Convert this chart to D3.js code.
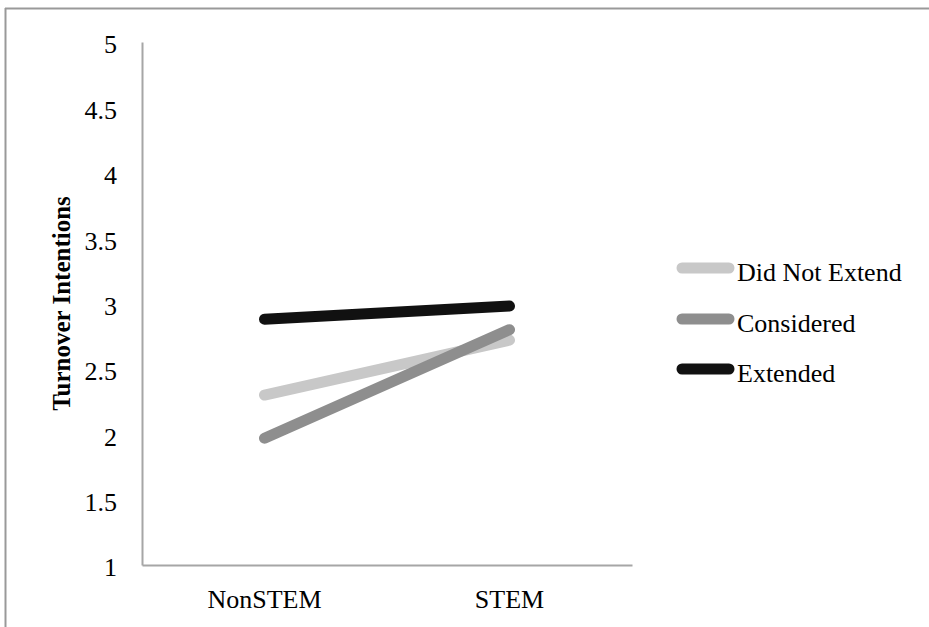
<!DOCTYPE html>
<html><head><meta charset="utf-8">
<script src="https://cdn.jsdelivr.net/npm/d3@7"></script>
<style>body{margin:0;background:#fff}svg{display:block}svg text{font-family:"Liberation Serif","Times New Roman",Times,serif}</style>
</head><body>
<script>
const categories = ["NonSTEM", "STEM"];
const seriesNames = ["Did Not Extend", "Considered", "Extended"];
const didNotExtend = [2.30, 2.72];
const considered = [1.97, 2.80];
const extended = [2.88, 2.98];
const yTicks = [1, 1.5, 2, 2.5, 3, 3.5, 4, 4.5, 5];
const colors = ["#c8c8c8", "#8e8e8e", "#111111"];

(function(){
const series = [didNotExtend, considered, extended];
const W = 929, H = 627;
const svg = d3.select("body").append("svg").attr("width", W).attr("height", H);
const font = "Liberation Serif, Times New Roman, serif";

// outer frame
svg.append("line").attr("x1",5).attr("x2",W).attr("y1",8.5).attr("y2",8.5).attr("stroke","#999").attr("stroke-width",2);
svg.append("line").attr("x1",5.5).attr("x2",5.5).attr("y1",8).attr("y2",H).attr("stroke","#999").attr("stroke-width",2);

const pl = 142, pr = 632, pt = 42, pb = 565;
const x = d3.scaleBand().domain(categories).range([pl, pr]);
const y = d3.scaleLinear().domain([1, 5]).range([pb, pt]);

const yAxis = svg.append("g").attr("transform", `translate(${pl},0)`)
  .call(d3.axisLeft(y).tickValues(yTicks).tickSize(0).tickPadding(25).tickFormat(d3.format("")));
yAxis.attr("font-family", null).attr("font-size", null);
yAxis.select(".domain").attr("stroke", "#a6a6a6").attr("stroke-width", 2);
yAxis.selectAll("text").style("font-family", font).style("font-size", "26px").attr("fill", "#000").attr("dy", "0.42em");

const xAxis = svg.append("g").attr("transform", `translate(0,${pb})`)
  .call(d3.axisBottom(x).tickSize(0).tickPadding(25));
xAxis.attr("font-family", null).attr("font-size", null);
xAxis.select(".domain").attr("stroke", "#a6a6a6").attr("stroke-width", 2);
xAxis.selectAll("text").style("font-family", font).style("font-size", "26px").attr("fill", "#000");

svg.append("text").attr("transform", `translate(70,${(pt+pb)/2}) rotate(-90)`)
  .attr("text-anchor","middle").style("font-family", font).style("font-size", "25px").attr("font-weight","bold")
  .text("Turnover Intentions");

const line = d3.line().x((d,i) => x(categories[i]) + x.bandwidth()/2).y(d => y(d));
series.forEach((s, k) => {
  svg.append("path").attr("d", line(s)).attr("fill","none").attr("stroke", colors[k])
    .attr("stroke-width", 11).attr("stroke-linecap","round");
});

const legendY = [268, 319, 369];
seriesNames.forEach((n, k) => {
  svg.append("line").attr("x1", 682).attr("x2", 729).attr("y1", legendY[k]).attr("y2", legendY[k])
    .attr("stroke", colors[k]).attr("stroke-width", 11).attr("stroke-linecap","round");
  svg.append("text").attr("x", 737).attr("y", legendY[k] + 13)
    .style("font-family", font).style("font-size", "26px").text(n);
});
})();
</script>
</body></html>
